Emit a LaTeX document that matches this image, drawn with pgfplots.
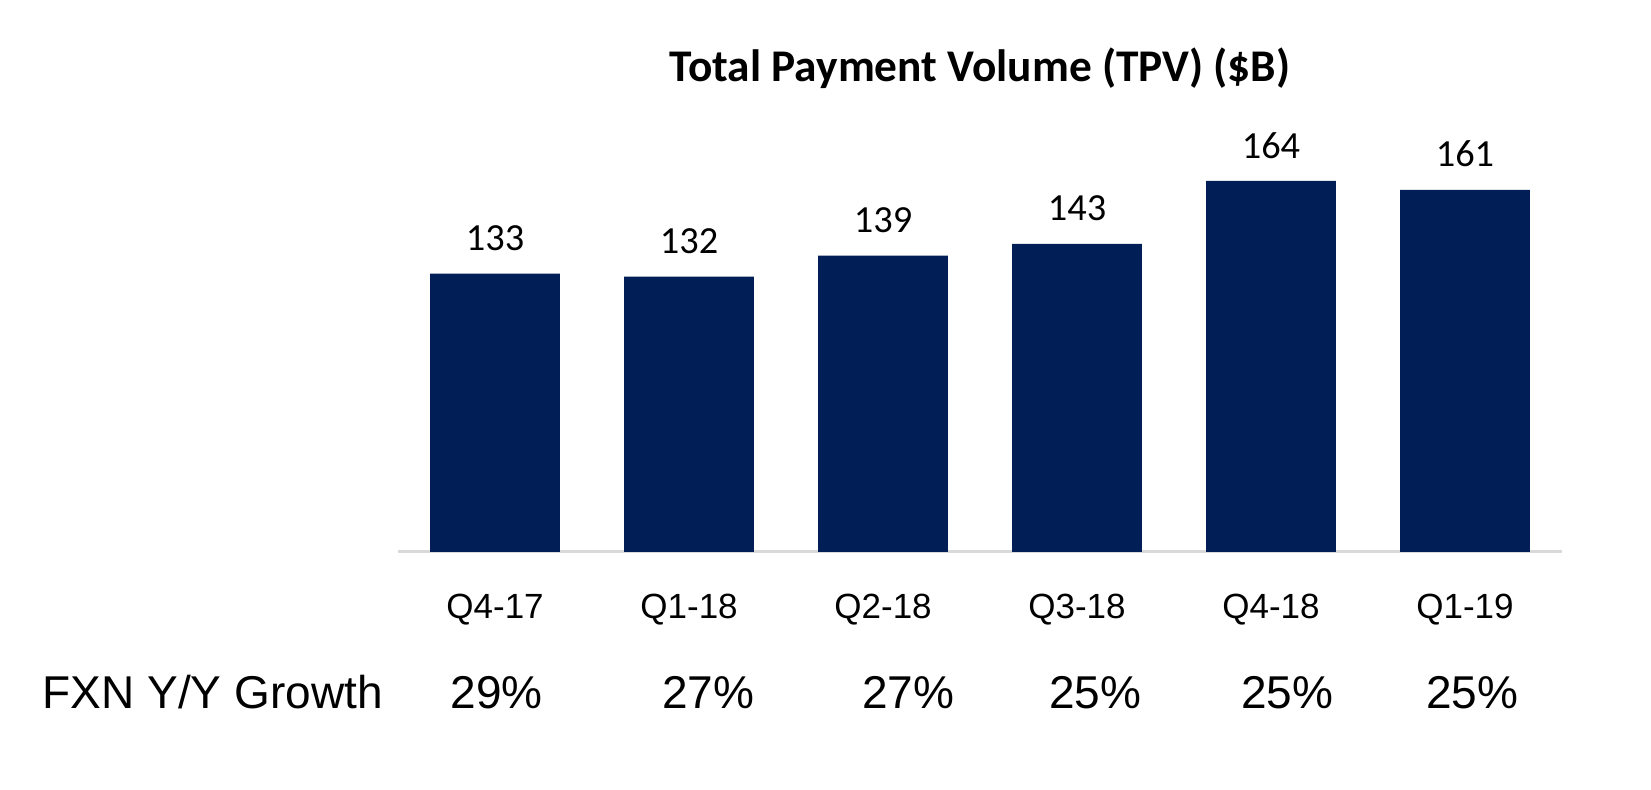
\documentclass[border=0pt]{standalone}
\usepackage{fontspec}
\setmainfont{Carlito}
\newfontfamily\arial{Liberation Sans}
\usepackage{pgfplots}
\pgfplotsset{compat=1.18}
\definecolor{Bar}{HTML}{011E56}
\definecolor{Rule}{HTML}{D9D9D9}

\begin{document}
\begin{tikzpicture}
\begin{axis}[
  scale only axis,
  width=349.1pt, height=116.6pt,
  xmin=-0.5, xmax=5.5, ymin=40, ymax=170,
  axis x line*=bottom, axis y line=none,
  x axis line style={draw=Rule, line width=0.8pt, -},
  xtick={0,...,5},
  xticklabels={Q4-17,Q1-18,Q2-18,Q3-18,Q4-18,Q1-19},
  major tick length=0pt,
  xticklabel style={font=\arial\fontsize{10.5}{12}\selectfont, anchor=base, inner sep=0pt, yshift=-20.1pt},
  ytick=\empty,
  clip=false,
  /pgf/number format/assume math mode=true,
  title={\bfseries Total Payment Volume (TPV) (\$B)},
  title style={font=\fontsize{13.6}{16}\selectfont, at={(rel axis cs:0.5,1)}, anchor=base, inner sep=0pt, yshift=18.5pt},
  nodes near coords,
  nodes near coords style={font=\fontsize{11.5}{13}\selectfont, anchor=south, inner sep=0pt, yshift=6.6pt, text=black},
]
\addplot[ybar, bar width=38.9pt, fill=Bar, draw=none] coordinates {
  (0,133) (1,132) (2,139) (3,143) (4,164) (5,161)
};
\begin{scope}[every node/.style={font=\arial\fontsize{13.8}{16}\selectfont, anchor=base, inner sep=0pt, yshift=-47pt}]
\node at (axis cs:0.008,40) {29\%};
\node at (axis cs:1.098,40) {27\%};
\node at (axis cs:2.13,40) {27\%};
\node at (axis cs:3.095,40) {25\%};
\node at (axis cs:4.084,40) {25\%};
\node at (axis cs:5.038,40) {25\%};
\node[anchor=base west, xshift=-106.8pt] at (axis cs:-0.5,40) {FXN Y/Y Growth};
\end{scope}
\end{axis}
\pgfresetboundingbox
\useasboundingbox ([shift={(-119.4pt,-71.4pt)}]current axis.south west) rectangle ([shift={(26.7pt,48.9pt)}]current axis.north east);
\end{tikzpicture}
\end{document}
